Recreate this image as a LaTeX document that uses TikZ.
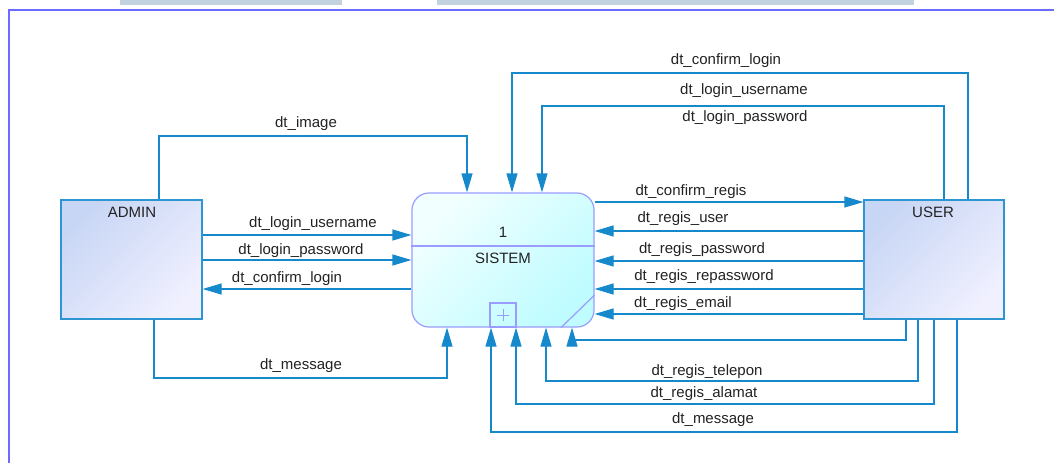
\documentclass[tikz,border=0pt]{standalone}
\usepackage{fontspec}
\setmainfont{Liberation Sans}
\usetikzlibrary{arrows.meta}
\definecolor{flowblue}{HTML}{1589CC}
\definecolor{entedge}{HTML}{2E95D3}
\definecolor{entA}{HTML}{C8D6F5}
\definecolor{entB}{HTML}{F0F0FF}
\definecolor{procedge}{HTML}{9A9CFF}
\definecolor{procA}{HTML}{F2FFFF}
\definecolor{procB}{HTML}{BEFCFF}
\definecolor{frameblue}{HTML}{6B6BFF}
\definecolor{bargrey}{HTML}{C2D2DF}
\definecolor{txt}{HTML}{222222}
\begin{document}
\begin{tikzpicture}[x=1pt,y=-1pt,
  entity/.style={draw=entedge, line width=1.2pt, top color=entA, bottom color=entB,
    shading angle=45, minimum width=141pt, minimum height=119pt, inner sep=0pt},
  process/.style={draw=procedge, line width=1.2pt, top color=procA, bottom color=procB,
    shading angle=45, rounded corners=17pt, minimum width=182pt, minimum height=134pt, inner sep=0pt},
  procline/.style={draw=procedge, line width=1.2pt},
  flow/.style={draw=flowblue, line width=1.2pt, -{Triangle[length=19pt,width=11pt]}},
  lbl/.style={font=\fontsize{15}{17}\selectfont, text=txt, anchor=base, inner sep=0pt},
]
\useasboundingbox (0,0) rectangle (1054,463);

% window frame
\fill[bargrey] (120,0) rectangle (342,5);
\fill[bargrey] (437,0) rectangle (914,5);
\draw[frameblue, line width=2pt] (9,463) -- (9,10) -- (1054,10);

% external entities and the process
\node[entity] (admin) at (131.5,259.5) {};
\node[entity, minimum width=140pt] (user) at (934,259.5) {};
\node[process] (sys) at (503,260) {};

\node[lbl] (admintxt) at (132,217) {ADMIN};
\node[lbl] (usertxt) at (933,217) {USER};
\node[lbl] (sysnum) at (503,237) {1};
\node[lbl] (systxt) at (503,263) {SISTEM};

\draw[procline] (sys.west |- 0,246) -- (sys.east |- 0,246);
\node[procline, minimum width=26pt, minimum height=24pt, inner sep=0pt, anchor=south] (sub) at (sys.south -| 503,0) {};
\draw[procedge, line width=0.8pt] ([yshift=-6pt]sub.center) -- ([yshift=6pt]sub.center)
  ([xshift=-6pt]sub.center) -- ([xshift=6pt]sub.center);
\draw[procline] (sys.south -| 561,0) -- (sys.east |- 0,295);

% ADMIN flows
\draw[flow] (admin.north -| 159,0) -- (159,136) -| (sys.north -| 467,0);
\node[lbl] (l1) at (306,127) {dt\_image};
\draw[flow] (admin.east |- 0,235) -- (sys.west |- 0,235);
\node[lbl] (l2) at (313,227) {dt\_login\_username};
\draw[flow] (admin.east |- 0,260) -- (sys.west |- 0,260);
\node[lbl] (l3) at (301,254) {dt\_login\_password};
\draw[flow] (sys.west |- 0,289) -- (admin.east |- 0,289);
\node[lbl] (l4) at (287,282) {dt\_confirm\_login};
\draw[flow] (admin.south -| 154,0) -- (154,378) -| (sys.south -| 447,0);
\node[lbl] (l5) at (301,369) {dt\_message};

% USER flows, top
\draw[flow] (user.north -| 968,0) -- (968,73) -| (sys.north -| 512,0);
\node[lbl] (l6) at (726,64) {dt\_confirm\_login};
\draw[flow] (user.north -| 944,0) -- (944,106) -| (sys.north -| 542,0);
\node[lbl] (l7) at (744,94) {dt\_login\_username};
\node[lbl] (l8) at (745,121) {dt\_login\_password};

% USER flows, side
\draw[flow] (sys.east |- 0,202) -- (user.west |- 0,202);
\node[lbl] (l9) at (691,195) {dt\_confirm\_regis};
\draw[flow] (user.west |- 0,231) -- (sys.east |- 0,231);
\node[lbl] (l10) at (683,222) {dt\_regis\_user};
\draw[flow] (user.west |- 0,261) -- (sys.east |- 0,261);
\node[lbl] (l11) at (702,253) {dt\_regis\_password};
\draw[flow] (user.west |- 0,289) -- (sys.east |- 0,289);
\node[lbl] (l12) at (704,280) {dt\_regis\_repassword};
\draw[flow] (user.west |- 0,314) -- (sys.east |- 0,314);
\node[lbl] (l13) at (683,307) {dt\_regis\_email};

% USER flows, bottom
\draw[flow] (user.south -| 906,0) -- (906,340) -| (sys.south -| 572,0);
\draw[flow] (user.south -| 918,0) -- (918,381) -| (sys.south -| 546,0);
\node[lbl] (l14) at (707,375) {dt\_regis\_telepon};
\draw[flow] (user.south -| 934,0) -- (934,404) -| (sys.south -| 516,0);
\node[lbl] (l15) at (704,397) {dt\_regis\_alamat};
\draw[flow] (user.south -| 957,0) -- (957,432) -| (sys.south -| 491,0);
\node[lbl] (l16) at (713,423) {dt\_message};
\end{tikzpicture}
\end{document}
